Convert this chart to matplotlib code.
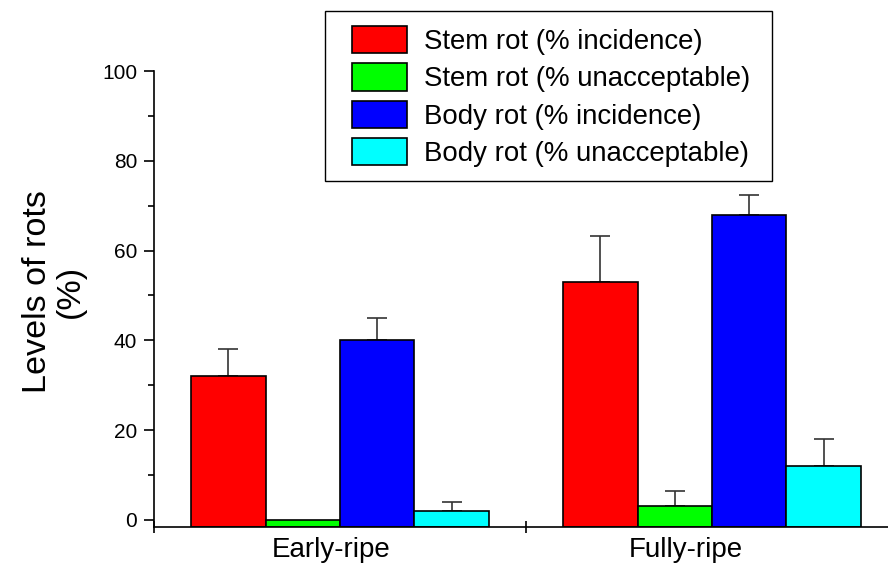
import numpy as np
import matplotlib
matplotlib.use("Agg")
from matplotlib import pyplot as plt
from matplotlib.patches import Rectangle
from matplotlib.ticker import FixedLocator, MultipleLocator

# data
stages = ["Early-ripe", "Fully-ripe"]
series = ["Stem rot (% incidence)", "Stem rot (% unacceptable)",
          "Body rot (% incidence)", "Body rot (% unacceptable)"]
stem_incidence = [32, 53]
stem_unacceptable = [0, 3]
body_incidence = [40, 68]
body_unacceptable = [2, 12]
stem_incidence_err = [6, 10.2]
stem_unacceptable_err = [0, 3.4]
body_incidence_err = [5, 4.4]
body_unacceptable_err = [1.9, 6]

colors = ["#ff0000", "#00ff00", "#0000ff", "#00ffff"]

plt.rcParams['font.family'] = ['Liberation Sans', 'DejaVu Sans']

fig = plt.figure(figsize=(8.88, 5.65), dpi=100)
ax = fig.add_axes([0.1734, 0.0673, 0.8266, 0.8067])

ymin = -1.6
x = np.arange(1, len(stages) + 1)
width = 0.2
values = [stem_incidence, stem_unacceptable, body_incidence, body_unacceptable]
errors = [stem_incidence_err, stem_unacceptable_err, body_incidence_err, body_unacceptable_err]

for i in range(len(series)):
    pos = x + (i - 1.5) * width
    heights = np.array(values[i]) - ymin
    ax.bar(pos, heights, width, bottom=ymin, color=colors[i], edgecolor="black",
           linewidth=1.2, label=series[i], zorder=2)
    errs = np.array(errors[i])
    mask = errs > 0
    ax.errorbar(pos[mask], np.array(values[i])[mask],
                yerr=[np.zeros(mask.sum()), errs[mask]],
                fmt="none", ecolor="#333333", elinewidth=1.2, capsize=7.5, capthick=1.2, zorder=1)

ax.set_xlim(0.5, 2.473)
ax.set_ylim(ymin, 100)

ax.spines['top'].set_visible(False)
ax.spines['right'].set_visible(False)
ax.spines['left'].set_bounds(ymin, 100)
ax.spines['left'].set_linewidth(1.2)
ax.spines['bottom'].set_linewidth(1.2)

ax.set_yticks([0, 20, 40, 60, 80, 100])
ax.yaxis.set_minor_locator(MultipleLocator(10))
ax.tick_params(axis='y', which='major', length=7, width=1.2, labelsize=15, direction='out', pad=5)
ax.tick_params(axis='y', which='minor', length=4.5, width=1.2, direction='out')

# the labels sit a little left of the group centres in the reference
ax.set_xticks(x - np.array([0.024, 0.07]))
ax.set_xticklabels(stages)
ax.xaxis.set_minor_locator(FixedLocator([0.5, 1.5]))
ax.tick_params(axis='x', which='major', length=0, labelsize=20, pad=7)
ax.tick_params(axis='x', which='minor', length=8, width=1.2, direction='inout')

fig.text(0.061, 0.484, "Levels of rots\n(%)", rotation=90, ha='center', va='center',
         fontsize=24.6, linespacing=1.1)

leg = fig.legend(loc='upper left', bbox_to_anchor=(352 / 888, 1 - 26 / 565), fontsize=19.9,
                 frameon=False, handlelength=2.0, handleheight=1.14, borderpad=0,
                 labelspacing=0.3, handletextpad=0.6, borderaxespad=0)
for h in leg.legend_handles:
    h.set_edgecolor("black")
    h.set_linewidth(1.2)

fig.add_artist(Rectangle((325 / 888, 1 - 181 / 565), 447 / 888, 170 / 565,
                         transform=fig.transFigure, facecolor="none",
                         edgecolor="black", linewidth=1.0))

fig.savefig("out.png", dpi=100)
